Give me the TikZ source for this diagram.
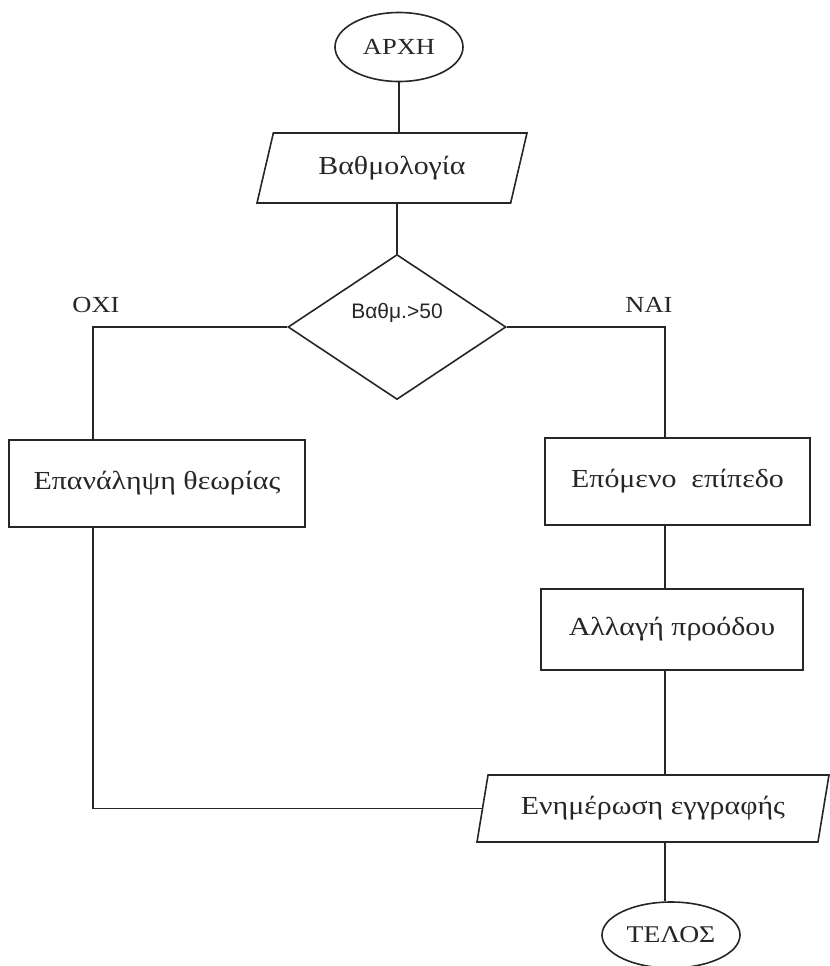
\documentclass[tikz,border=0pt]{standalone}
\usepackage{fontspec}
\setmainfont{Liberation Serif}[FakeStretch=1.15]
\newfontfamily\condfont{Liberation Sans}
\usetikzlibrary{shapes.geometric,positioning}

\begin{document}
\begin{tikzpicture}[x=0.5pt,y=-0.5pt,line width=0.8pt,color=black!85]
	\tikzset{
		term/.style={draw,ellipse,inner sep=0pt,font=\fontsize{11.5}{13}\selectfont},
		io/.style={draw,trapezium,trapezium stretches body,inner sep=0pt,font=\fontsize{13}{15}\selectfont},
		box/.style={draw,rectangle,inner sep=0pt,font=\fontsize{13}{15}\selectfont},
		cond/.style={draw,diamond,inner sep=0pt,minimum width=109pt,minimum height=72.5pt},
		answer/.style={font=\fontsize{11.5}{13}\selectfont}
	}
	\useasboundingbox (0,0) rectangle (830,966);
	\node[term,minimum width=64pt,minimum height=34.5pt] (start) at (399,47) {ΑΡΧΗ};
	\node[io,trapezium left angle=55.6,trapezium right angle=124.4,minimum width=135pt,minimum height=35pt] (grade) at (392,168) {Βαθμολογία};
	\node[cond] (test) at (397,327) {};
	\node[font=\condfont\fontsize{10.5}{12}\selectfont] (testlabel) at ([yshift=7pt]test.center) {Βαθμ.>50};
	\node[box,minimum width=148pt,minimum height=43.5pt] (repeat) at (157,483.5) {Επανάληψη θεωρίας};
	\node[box,minimum width=132.5pt,minimum height=43.5pt] (next) at (677.5,481.5) {Επόμενο\ \ επίπεδο};
	\node[box,minimum width=131pt,minimum height=40.5pt] (change) at (672,629.5) {Αλλαγή προόδου};
	\node[io,trapezium left angle=65.2,trapezium right angle=114.8,minimum width=176pt,minimum height=33.5pt] (update) at (653,808.5) {Ενημέρωση εγγραφής};
	\node[term,font=\fontsize{12}{14}\selectfont,minimum width=69pt,minimum height=33pt] (stop) at (671,935) {ΤΕΛΟΣ};
	\node[answer] (no) at (96,305) {ΟΧΙ};
	\node[answer] (yes) at (649,305) {ΝΑΙ};
	\coordinate (lx) at (93,0);
	\coordinate (rx) at (665,0);
	\draw (start.south) -- (start.south |- grade.north);
	\draw (test.north |- grade.south) -- (test.north);
	\draw (test.west) -| (repeat.north -| lx);
	\draw (repeat.south -| lx) |- (update.west);
	\draw (test.east) -| (next.north -| rx);
	\draw (next.south -| rx) -- (change.north -| rx);
	\draw (change.south -| rx) -- (update.north -| rx);
	\draw (update.south -| rx) -- (stop.north -| rx);
\end{tikzpicture}
\end{document}
